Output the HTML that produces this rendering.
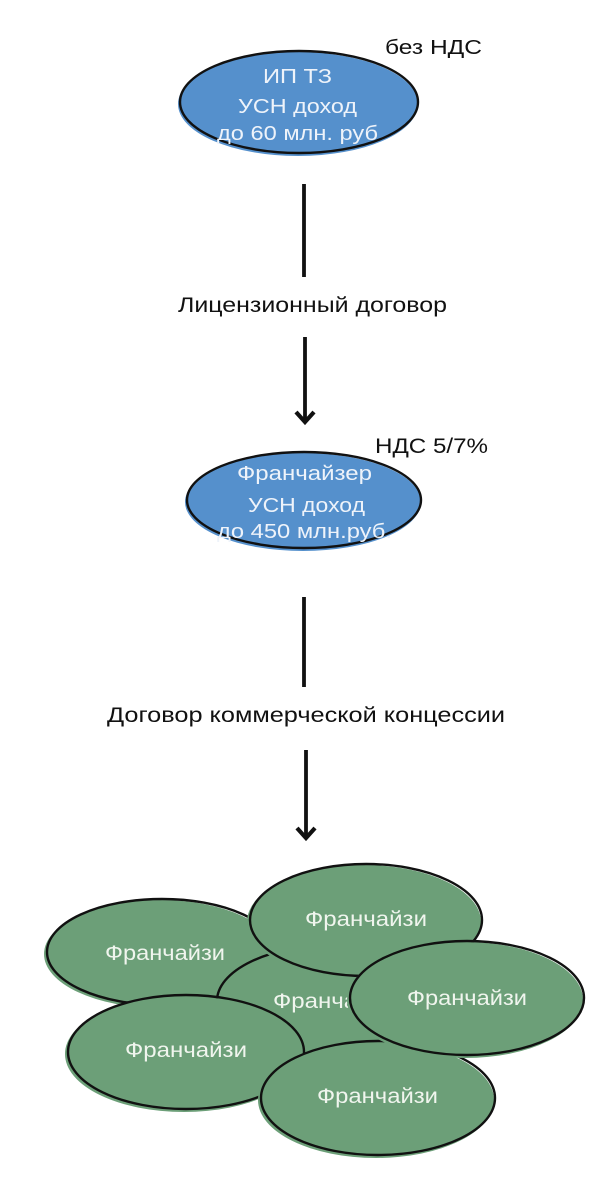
<!DOCTYPE html>
<html>
<head>
<meta charset="utf-8">
<style>
  html, body { margin: 0; padding: 0; background: #ffffff; }
  svg { display: block; }
  text { font-family: "Liberation Sans", "DejaVu Sans", sans-serif; }
</style>
</head>
<body>
<svg width="615" height="1200" viewBox="0 0 615 1200" xmlns="http://www.w3.org/2000/svg">
  <rect width="615" height="1200" fill="#ffffff"/>

  <!-- Top blue ellipse -->
  <ellipse cx="298" cy="104" rx="120" ry="52" fill="#5590cc"/>
  <ellipse cx="299" cy="102" rx="119" ry="51" fill="none" stroke="#111111" stroke-width="2.4"/>
  <g fill="#eef3fa" font-size="20">
    <text x="263" y="83" textLength="69" lengthAdjust="spacingAndGlyphs">ИП ТЗ</text>
    <text x="238" y="113" textLength="119" lengthAdjust="spacingAndGlyphs">УСН доход</text>
    <text x="217" y="140" textLength="161" lengthAdjust="spacingAndGlyphs">до 60 млн. руб</text>
  </g>
  <text x="385" y="54" font-size="20" fill="#111111" textLength="97" lengthAdjust="spacingAndGlyphs">без НДС</text>

  <!-- Line 1 -->
  <line x1="304" y1="184" x2="304" y2="277" stroke="#111111" stroke-width="3.8"/>
  <text x="178" y="312" font-size="21" fill="#111111" textLength="269" lengthAdjust="spacingAndGlyphs">Лицензионный договор</text>
  <!-- Arrow 2 -->
  <line x1="305" y1="337" x2="305" y2="421" stroke="#111111" stroke-width="3.8"/>
  <polyline points="296,412 305,422 314,412" fill="none" stroke="#111111" stroke-width="4.2" stroke-linejoin="miter"/>

  <!-- Second blue ellipse -->
  <ellipse cx="303" cy="502" rx="118" ry="49" fill="#5590cc"/>
  <ellipse cx="304" cy="500" rx="117" ry="48" fill="none" stroke="#111111" stroke-width="2.4"/>
  <g fill="#eef3fa" font-size="20">
    <text x="237" y="480" textLength="135" lengthAdjust="spacingAndGlyphs">Франчайзер</text>
    <text x="248" y="512" textLength="117" lengthAdjust="spacingAndGlyphs">УСН доход</text>
    <text x="217" y="538" textLength="175" lengthAdjust="spacingAndGlyphs">до 450 млн.руб.</text>
  </g>
  <text x="375" y="453" font-size="21" fill="#111111" textLength="113" lengthAdjust="spacingAndGlyphs">НДС 5/7%</text>

  <!-- Line 3 -->
  <line x1="304" y1="597" x2="304" y2="687" stroke="#111111" stroke-width="3.8"/>
  <text x="107" y="722" font-size="21" fill="#111111" textLength="398" lengthAdjust="spacingAndGlyphs">Договор коммерческой концессии</text>
  <!-- Arrow 4 -->
  <line x1="306" y1="750" x2="306" y2="837" stroke="#111111" stroke-width="3.8"/>
  <polyline points="297,828 306,838 315,828" fill="none" stroke="#111111" stroke-width="4.2" stroke-linejoin="miter"/>

  <!-- Green ellipses -->
  <g font-size="21" fill="#f0f5ee">
    <!-- A -->
    <ellipse cx="160" cy="954" rx="116" ry="54" fill="#6c9f78"/>
    <ellipse cx="162" cy="952" rx="115" ry="53" fill="none" stroke="#111111" stroke-width="2.4"/>
    <text x="105" y="960" textLength="120" lengthAdjust="spacingAndGlyphs">Франчайзи</text>

    <!-- C -->
    <ellipse cx="333" cy="1003" rx="118" ry="57" fill="#6c9f78"/>
    <ellipse cx="334" cy="1001" rx="117" ry="56" fill="none" stroke="#111111" stroke-width="2.4"/>
    <text x="273" y="1008" textLength="122" lengthAdjust="spacingAndGlyphs">Франчайзи</text>

    <!-- B -->
    <ellipse cx="364" cy="922" rx="117" ry="57" fill="#6c9f78"/>
    <ellipse cx="366" cy="920" rx="116" ry="56" fill="none" stroke="#111111" stroke-width="2.4"/>
    <text x="305" y="926" textLength="122" lengthAdjust="spacingAndGlyphs">Франчайзи</text>

    <!-- E -->
    <ellipse cx="184" cy="1054" rx="119" ry="58" fill="#6c9f78"/>
    <ellipse cx="186" cy="1052" rx="118" ry="57" fill="none" stroke="#111111" stroke-width="2.4"/>
    <text x="125" y="1057" textLength="122" lengthAdjust="spacingAndGlyphs">Франчайзи</text>

    <!-- F -->
    <ellipse cx="376" cy="1100" rx="118" ry="58" fill="#6c9f78"/>
    <ellipse cx="378" cy="1098" rx="117" ry="57" fill="none" stroke="#111111" stroke-width="2.4"/>
    <text x="317" y="1103" textLength="121" lengthAdjust="spacingAndGlyphs">Франчайзи</text>

    <!-- D -->
    <ellipse cx="465" cy="1000" rx="118" ry="58" fill="#6c9f78"/>
    <ellipse cx="467" cy="998" rx="117" ry="57" fill="none" stroke="#111111" stroke-width="2.4"/>
    <text x="407" y="1005" textLength="120" lengthAdjust="spacingAndGlyphs">Франчайзи</text>
  </g>
</svg>
</body>
</html>
